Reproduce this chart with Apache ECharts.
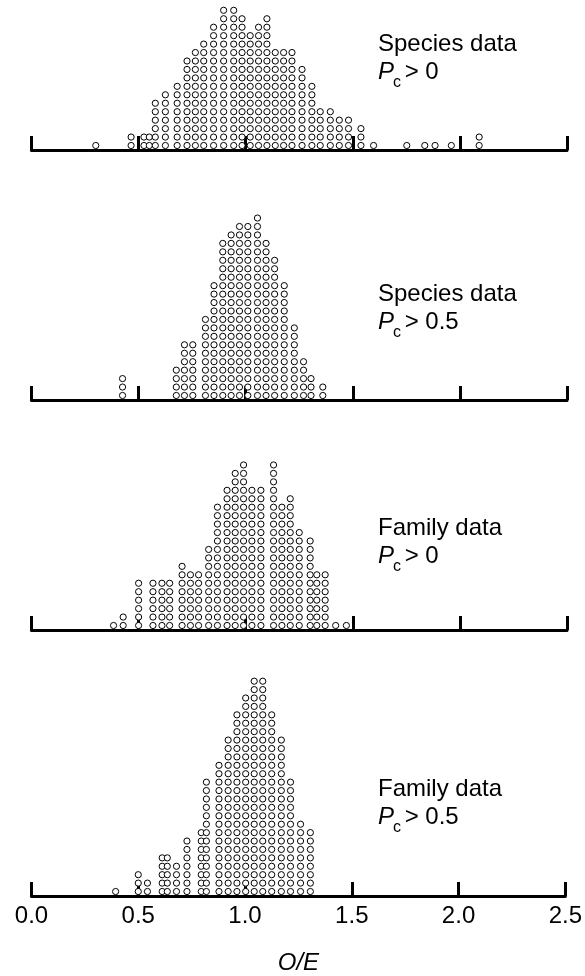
<!DOCTYPE html>
<html>
<head>
<meta charset="utf-8">
<script src="https://cdn.jsdelivr.net/npm/echarts@6/dist/echarts.min.js"></script>
<style>
html,body{margin:0;padding:0;background:#fff;}
#chart{width:585px;height:976px;}
</style>
</head>
<body>
<div id="chart"></div>
<script>
// ---- data: O/E value of each dot column and the number of stacked dots ----
const speciesP0_x = [0.30, 0.465, 0.525, 0.55, 0.578, 0.625, 0.68, 0.726, 0.765, 0.804, 0.850, 0.897, 0.944, 0.983, 1.021, 1.060, 1.099, 1.138, 1.177, 1.216, 1.263, 1.309, 1.348, 1.395, 1.437, 1.480, 1.538, 1.597, 1.752, 1.836, 1.884, 1.960, 2.09];
const speciesP0_n = [1, 2, 2, 2, 6, 7, 8, 11, 12, 13, 15, 17, 17, 16, 14, 15, 16, 12, 12, 12, 10, 8, 5, 5, 4, 4, 3, 1, 1, 1, 1, 1, 2];

const speciesP05_x = [0.425, 0.676, 0.714, 0.753, 0.812, 0.852, 0.893, 0.932, 0.971, 1.010, 1.055, 1.095, 1.135, 1.180, 1.227, 1.270, 1.305, 1.360];
const speciesP05_n = [3, 4, 7, 7, 10, 14, 19, 20, 21, 21, 22, 19, 17, 14, 9, 5, 3, 2];

const familyP0_x = [0.383, 0.428, 0.500, 0.567, 0.609, 0.645, 0.703, 0.742, 0.780, 0.827, 0.868, 0.913, 0.951, 0.990, 1.029, 1.071, 1.130, 1.169, 1.208, 1.250, 1.301, 1.332, 1.371, 1.42, 1.47];
const familyP0_n = [1, 2, 6, 6, 6, 6, 8, 7, 7, 10, 15, 17, 19, 20, 17, 17, 20, 15, 16, 12, 11, 7, 7, 1, 1];

const familyP05_x = [0.394, 0.500, 0.543, 0.612, 0.636, 0.679, 0.728, 0.795, 0.819, 0.878, 0.921, 0.962, 1.003, 1.043, 1.083, 1.125, 1.170, 1.213, 1.260, 1.306];
const familyP05_n = [1, 3, 2, 5, 5, 4, 7, 8, 14, 16, 19, 22, 24, 26, 26, 22, 19, 14, 9, 8];

const panelTitles = ['Species data', 'Species data', 'Family data', 'Family data'];
const panelThresholds = [' > 0', ' > 0.5', ' > 0', ' > 0.5'];
const tickLabels = ['0.0', '0.5', '1.0', '1.5', '2.0', '2.5'];
const axisName = 'O/E';

// ---- layout ----
const panels = [
  {x: speciesP0_x, n: speciesP0_n},
  {x: speciesP05_x, n: speciesP05_n},
  {x: familyP0_x, n: familyP0_n},
  {x: familyP05_x, n: familyP05_n}
];
const AXIS_Y = [150, 400, 630, 897];
const TEXT_OFF = [104, 104, 100, 106];
const ROW = 8.45;      // px between stacked dots
const FIRST = 4.5;     // px from axis line to centre of first dot
const FONT = '"Liberation Sans", Arial, Helvetica, sans-serif';
const TXT_X = 378;

const grids = [], xAxes = [], yAxes = [], series = [], graphics = [];
panels.forEach((p, i) => {
  const ay = AXIS_Y[i];
  const H = Math.min(230, ay - 2);
  const yMin = 1 - FIRST / ROW;
  grids.push({left: 31.5, right: 18, top: ay - H, height: H});
  const last = i === panels.length - 1;
  xAxes.push({
    type: 'value', gridIndex: i, min: 0, max: 2.5, interval: 0.5,
    axisLine: {show: true, lineStyle: {color: '#000', width: 3}},
    axisTick: {show: true, inside: true, length: 14, lineStyle: {color: '#000', width: 3}},
    splitLine: {show: false},
    axisLabel: {
      show: last, margin: 8, color: '#000', fontSize: 24, fontFamily: FONT,
      formatter: v => tickLabels[Math.round(v / 0.5)]
    },
    name: last ? axisName : '',
    nameLocation: 'middle', nameGap: 55,
    nameTextStyle: {fontSize: 24, fontStyle: 'italic', color: '#000', fontFamily: FONT}
  });
  yAxes.push({type: 'value', gridIndex: i, min: yMin, max: yMin + H / ROW, show: false});
  const pts = [];
  p.x.forEach((xv, j) => { for (let k = 1; k <= p.n[j]; k++) pts.push([xv, k]); });
  series.push({
    type: 'scatter', xAxisIndex: i, yAxisIndex: i, data: pts, clip: false, silent: true,
    symbol: 'circle', symbolSize: 6.2,
    itemStyle: {color: '#fff', borderColor: '#000', borderWidth: 1, opacity: 1}
  });
  const off = TEXT_OFF[i];
  graphics.push({type: 'text', left: TXT_X, top: ay - off - 14, style: {text: panelTitles[i], font: '24px ' + FONT, fill: '#000'}});
  graphics.push({type: 'text', left: TXT_X, top: ay - off + 28.5 - 14, style: {text: 'P', font: 'italic 24px ' + FONT, fill: '#000'}});
  graphics.push({type: 'text', left: TXT_X + 15, top: ay - off + 37.5 - 9, style: {text: 'c', font: '16px ' + FONT, fill: '#000'}});
  graphics.push({type: 'text', left: TXT_X + 20, top: ay - off + 28.5 - 14, style: {text: panelThresholds[i], font: '24px ' + FONT, fill: '#000'}});
});

const chart = echarts.init(document.getElementById('chart'), null, {renderer: 'canvas'});
chart.setOption({
  backgroundColor: '#fff',
  animation: false,
  grid: grids, xAxis: xAxes, yAxis: yAxes, series: series, graphic: graphics
});
</script>
</body>
</html>
